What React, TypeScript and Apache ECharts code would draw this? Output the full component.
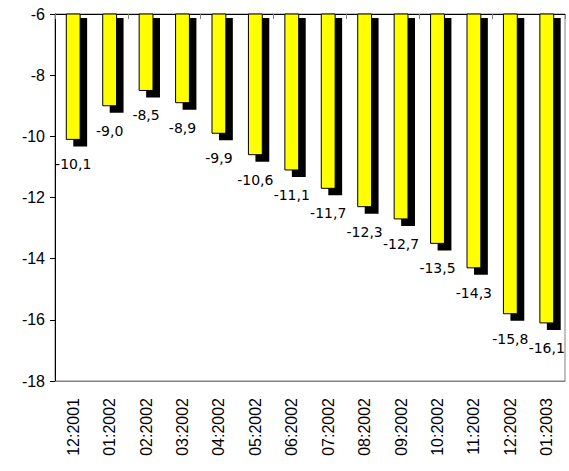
import React, { useEffect, useRef } from "react";
import * as echarts from "echarts";

const categories = [
  "12:2001", "01:2002", "02:2002", "03:2002", "04:2002", "05:2002", "06:2002",
  "07:2002", "08:2002", "09:2002", "10:2002", "11:2002", "12:2002", "01:2003",
];
const values = [-10.1, -9.0, -8.5, -8.9, -9.9, -10.6, -11.1, -11.7, -12.3, -12.7, -13.5, -14.3, -15.8, -16.1];
const yMin = -18;
const yMax = -6;
const yInterval = 2;

export default function App() {
  const ref = useRef<HTMLDivElement>(null);
  useEffect(() => {
    if (!ref.current) return;
    const chart = echarts.init(ref.current, undefined, { renderer: "svg" });
    const data = values.map((v, i) => [i, v]);
    chart.setOption({
      animation: false,
      backgroundColor: "#ffffff",
      grid: {
        left: 55,
        right: 4,
        top: 14,
        bottom: 90,
        show: true,
        borderColor: "#808080",
        borderWidth: 1,
        backgroundColor: "transparent",
      },
      xAxis: [
        {
          type: "category",
          data: categories,
          position: "top",
          axisLine: { show: true, onZero: false, lineStyle: { color: "#000", width: 1 } },
          axisTick: { show: true, inside: true, length: 5, alignWithLabel: false, lineStyle: { color: "#808080" } },
          axisLabel: { show: false },
          splitLine: { show: false },
        },
        {
          type: "category",
          data: categories,
          position: "bottom",
          axisLine: { show: true, onZero: false, lineStyle: { color: "#808080", width: 1 } },
          axisTick: { show: false },
          axisLabel: {
            show: true,
            rotate: 90,
            interval: 0,
            margin: 17,
            fontFamily: "Liberation Sans",
            fontSize: 16,
            color: "#000",
            padding: [0, 0, 8, 0],
          },
          splitLine: { show: false },
        },
      ],
      yAxis: {
        type: "value",
        min: yMin,
        max: yMax,
        interval: yInterval,
        axisLine: { show: true, onZero: false, lineStyle: { color: "#000", width: 1 } },
        axisTick: { show: true, length: 5, lineStyle: { color: "#000" } },
        axisLabel: {
          margin: 10,
          fontFamily: "Liberation Sans",
          fontSize: 16,
          color: "#000",
        },
        splitLine: { show: false },
      },
      series: [
        {
          type: "custom",
          xAxisIndex: 1,
          data,
          encode: { x: 0, y: 1 },
          renderItem: (params: any, api: any) => {
            const idx = api.value(0);
            const v = api.value(1);
            const top = api.coord([idx, yMax]);
            const bot = api.coord([idx, v]);
            const w = api.size([1, 0])[0] * 0.38;
            const cx = top[0];
            const h = bot[1] - top[1];
            const label = v.toFixed(1).replace(".", ",");
            return {
              type: "group",
              children: [
                {
                  type: "rect",
                  shape: { x: cx - w / 2 + 7, y: top[1] + 4, width: w, height: h + 3 },
                  style: { fill: "#000" },
                },
                {
                  type: "rect",
                  shape: { x: cx - w / 2, y: top[1], width: w, height: h },
                  style: { fill: "#FFFF00", stroke: "#000", lineWidth: 1 },
                },
                {
                  type: "text",
                  style: {
                    text: label,
                    x: cx,
                    y: bot[1] + 25,
                    align: "center",
                    verticalAlign: "middle",
                    fontFamily: "DejaVu Sans",
                    fontSize: 14,
                    fill: "#000",
                  },
                },
              ],
            };
          },
        },
      ],
    });
    return () => chart.dispose();
  }, []);
  return (
    <div
      ref={ref}
      style={{ position: "fixed", left: 0, top: 0, width: 569, height: 471, background: "#fff" }}
    />
  );
}
